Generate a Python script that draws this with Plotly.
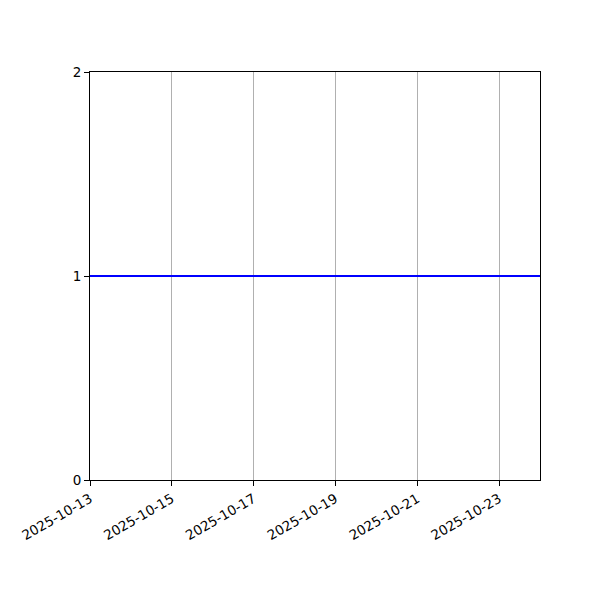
import pandas as pd
import plotly.graph_objects as go

dates = pd.date_range("2025-10-13", "2025-10-24", freq="D")
values = [1, 1, 1, 1, 1, 1, 1, 1, 1, 1, 1, 1]
tick_dates = ["2025-10-13", "2025-10-15", "2025-10-17", "2025-10-19", "2025-10-21", "2025-10-23"]
y_ticks = [0, 1, 2]

fig = go.Figure()
fig.add_trace(go.Scatter(x=dates, y=values, mode="lines",
                         line=dict(color="#0000ff", width=2)))

# page body adds ~8px offset, so margins are shifted to compensate
fig.update_layout(
    width=600, height=600,
    margin=dict(l=82, r=68, t=64, b=128),
    paper_bgcolor="white", plot_bgcolor="white",
    showlegend=False,
    font=dict(family="DejaVu Sans", size=13.5, color="black"),
)
fig.update_xaxes(
    range=["2025-10-13", "2025-10-24"],
    tickvals=tick_dates, ticktext=tick_dates, tickangle=-30,
    showgrid=True, gridcolor="#b0b0b0", gridwidth=1,
    showline=True, linecolor="black", linewidth=1, mirror=True,
    ticks="outside", ticklen=5, tickcolor="black", zeroline=False,
)
fig.update_yaxes(
    range=[0, 2], tickvals=y_ticks,
    showgrid=False,
    showline=True, linecolor="black", linewidth=1, mirror=True,
    ticks="outside", ticklen=5, tickcolor="black", zeroline=False,
)

fig.write_html("out.html")
